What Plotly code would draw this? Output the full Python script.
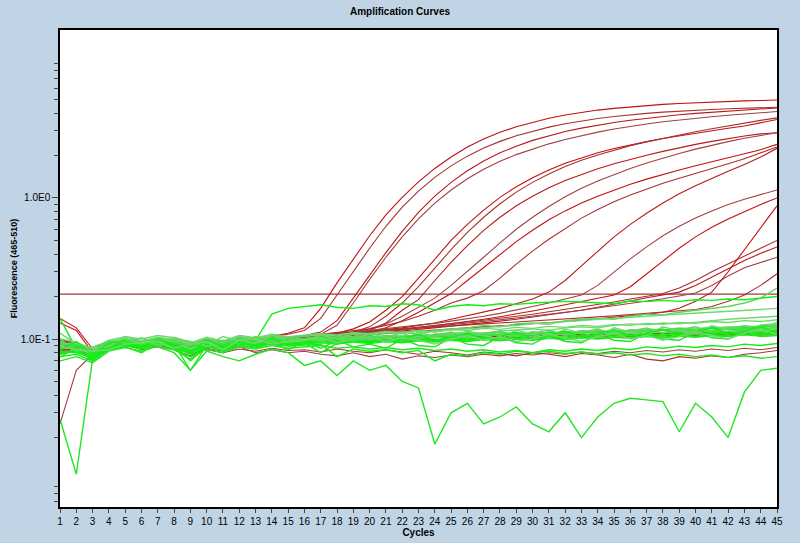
import plotly.graph_objects as go

cycles = list(range(1, 46))
threshold = 0.208

# fluorescence values in thousandths, one list per sample (45 cycles)
red_curves = [
 [95,90,80,92,98,95,100,97,92,99,95,102,100,105,110,120,165,250,370,540,760,1010,1300,1620,1950,2300,2620,2920,3200,3450,3680,3880,4050,4200,4320,4430,4530,4610,4680,4740,4790,4840,4880,4910,4950],
 [100,92,82,93,99,94,101,96,90,98,94,101,99,104,108,115,140,205,300,440,630,860,1120,1400,1690,1980,2260,2520,2760,2980,3180,3360,3520,3660,3780,3890,3980,4060,4130,4190,4240,4290,4330,4370,4400],
 [88,90,78,91,97,92,99,94,88,96,92,99,97,101,103,106,112,135,195,285,410,580,790,1030,1290,1560,1830,2090,2330,2560,2770,2960,3130,3290,3430,3560,3680,3790,3890,3980,4060,4140,4210,4280,4350],
 [82,86,76,90,95,90,97,93,86,95,90,98,96,100,102,104,108,125,180,265,380,530,710,920,1140,1370,1600,1820,2030,2230,2420,2600,2770,2930,3080,3220,3350,3470,3580,3680,3770,3860,3940,4020,4100],
 [90,88,80,92,97,93,99,95,89,97,93,100,97,102,100,104,106,110,118,132,160,200,270,370,500,650,820,1010,1200,1390,1580,1760,1930,2090,2240,2380,2510,2640,2760,2880,3000,3120,3240,3400,3600],
 [85,87,79,91,96,91,98,94,87,96,92,99,96,100,99,102,104,107,112,122,145,180,235,320,430,570,730,910,1100,1290,1480,1670,1850,2020,2190,2350,2500,2650,2800,2950,3100,3250,3400,3550,3700],
 [98,94,84,95,100,96,102,98,91,100,95,103,99,104,102,105,106,108,110,115,130,160,190,260,350,460,590,730,880,1030,1180,1330,1470,1610,1750,1880,2010,2140,2270,2400,2520,2640,2750,2850,2900],
 [92,89,81,93,98,94,100,96,90,98,94,101,98,103,101,104,106,108,112,118,128,145,168,195,240,300,380,480,600,730,870,1020,1170,1320,1470,1620,1770,1920,2070,2220,2370,2510,2650,2780,2900],
 [86,86,78,90,95,91,97,93,87,95,91,98,95,100,98,101,103,105,108,112,120,135,155,180,210,260,320,400,490,590,700,810,920,1030,1140,1250,1360,1470,1580,1690,1800,1920,2050,2200,2400],
 [94,91,83,94,99,95,101,97,91,99,95,102,99,104,102,105,107,110,114,118,125,133,145,160,180,195,220,270,340,420,510,610,720,830,940,1050,1160,1270,1380,1500,1620,1750,1900,2080,2300],
 [89,88,80,92,97,92,98,95,89,97,93,100,97,102,100,103,105,107,110,113,116,120,125,130,138,146,155,165,178,192,215,260,330,420,530,650,780,920,1070,1220,1380,1550,1730,1950,2250],
 [96,92,84,94,99,95,101,97,91,99,95,102,99,104,102,105,107,109,112,115,118,121,125,129,134,139,145,152,160,170,180,192,205,240,300,370,450,540,630,720,810,900,980,1060,1140],
 [84,86,77,90,95,90,97,93,86,95,90,98,95,100,98,101,103,105,108,110,113,116,120,124,128,133,138,144,150,158,166,175,185,196,205,235,290,360,440,530,620,710,800,900,1000],
 [91,89,80,92,97,93,99,95,89,97,93,100,97,102,100,103,105,107,110,112,115,118,121,125,128,132,136,140,145,150,156,162,168,175,183,192,200,210,230,260,300,340,390,440,500],
 [87,87,78,90,95,91,97,93,87,95,91,98,95,100,98,101,103,105,107,109,112,114,117,120,123,126,130,134,138,143,148,154,160,168,176,186,196,206,215,240,275,315,360,405,450],
 [93,90,82,93,98,94,100,96,90,98,94,101,98,103,101,104,106,108,110,112,114,117,120,123,126,129,133,137,141,145,150,155,160,166,172,178,185,193,202,212,240,280,320,350,380],
 [80,85,75,89,94,89,96,92,85,94,89,97,94,99,97,100,102,104,106,108,110,112,114,116,118,120,122,124,126,128,130,133,136,139,142,146,150,155,165,185,215,300,430,620,880],
 [97,93,85,95,100,96,102,98,92,100,96,103,100,105,103,106,108,110,112,114,116,118,120,122,124,126,128,130,132,134,136,138,140,143,146,149,152,155,158,162,170,185,205,240,290],
 [140,120,85,92,96,90,95,92,84,92,88,96,93,98,95,97,99,98,101,100,102,101,103,102,104,103,105,104,106,105,107,106,108,107,109,108,110,109,111,110,112,111,113,112,114],
 [25,60,78,88,90,85,88,84,76,86,82,88,80,84,80,82,78,76,80,75,78,72,76,74,77,75,78,76,79,77,80,78,81,79,82,80,83,81,84,82,85,83,86,84,87],
 [130,115,80,90,94,89,94,90,83,91,87,94,92,96,93,95,97,95,98,96,99,97,100,98,101,99,102,100,103,101,104,102,105,103,106,104,107,105,108,106,109,107,110,108,111],
 [78,82,72,86,92,84,90,86,79,84,80,85,82,86,83,84,81,85,82,80,84,81,78,82,80,77,81,79,76,80,78,75,79,77,74,78,72,70,75,73,76,74,78,80,83],
]

green_curves = [
 [27,11,72,88,90,85,88,80,60,82,75,70,78,85,80,65,70,55,70,60,65,50,45,18,30,35,25,28,33,25,22,30,20,28,35,38,37,36,22,35,28,20,42,60,62],
 [95,90,80,95,100,95,102,98,88,97,92,100,97,103,98,100,105,102,108,106,110,112,108,115,118,120,125,122,128,130,127,135,138,140,138,145,150,148,155,160,165,170,180,195,230],
 [140,85,78,92,98,93,100,96,90,99,94,102,98,150,165,170,175,168,165,172,170,178,175,160,170,175,172,178,176,180,182,185,183,180,178,186,184,188,185,190,188,192,190,195,200],
 [85,88,76,90,96,92,98,93,84,94,90,97,95,99,96,98,100,103,101,104,102,106,104,108,110,112,110,114,116,118,115,120,122,120,125,128,126,130,128,132,135,138,140,142,145],
 [80,82,72,88,92,88,95,90,80,90,86,94,92,96,93,95,97,99,96,100,98,102,100,103,105,104,106,108,107,110,108,112,110,113,112,115,114,116,118,117,120,122,121,124,125],
 [90,92,80,94,99,95,100,97,90,98,93,101,98,102,99,101,103,100,104,102,106,104,107,105,108,110,107,111,109,112,110,113,111,114,112,115,113,116,114,117,115,118,116,119,118],
 [75,78,70,85,90,86,92,88,78,88,84,92,90,93,90,92,94,92,95,93,96,94,97,95,98,96,99,97,100,98,101,99,102,100,103,101,104,102,105,103,106,104,107,105,108],
 [100,95,85,98,104,100,106,102,94,103,97,106,102,108,104,106,109,107,111,109,113,111,115,113,117,115,119,117,121,119,123,121,125,123,127,125,129,127,131,129,133,131,135,133,137],
 [70,75,68,82,87,82,89,84,75,85,80,88,85,90,86,88,90,86,88,85,87,84,86,83,85,82,84,81,83,80,82,79,81,78,80,77,79,76,78,75,77,74,76,73,75],
 [88,86,79,91,95,91,96,94,86,95,91,99,96,100,97,99,101,99,103,101,104,102,106,104,107,105,108,106,109,107,110,108,111,109,112,110,113,111,114,112,115,113,116,114,117],
 [82,80,74,87,93,89,94,91,83,92,88,95,93,97,94,96,98,96,99,97,100,98,101,99,102,100,103,101,104,102,105,103,106,104,107,105,108,106,109,107,110,108,111,109,112],
 [92,94,82,96,101,97,103,99,92,101,95,104,100,106,102,104,107,105,110,108,112,110,114,112,116,118,120,122,125,128,130,132,135,138,140,142,145,148,150,152,155,158,160,162,165],
 [78,84,73,89,94,90,96,92,60,90,86,93,91,95,92,94,80,93,96,94,97,95,98,96,99,97,100,98,101,99,102,100,103,101,104,102,105,103,106,104,107,105,108,106,110],
 [96,88,83,93,97,94,99,95,89,96,92,98,95,101,97,99,102,100,104,102,105,103,107,105,108,106,110,108,111,109,112,110,114,112,115,113,117,115,118,116,119,117,120,118,121],
 [85,90,77,89,93,88,94,90,70,88,85,90,88,92,89,90,92,75,85,82,84,80,83,70,78,76,80,78,82,80,84,82,85,83,86,84,88,86,89,87,90,88,92,90,93],
 [90,85,80,93,98,92,97,95,85,94,90,96,94,98,95,97,99,97,101,99,102,100,104,102,106,104,108,106,110,108,112,110,114,112,116,114,118,116,120,118,122,120,124,122,126],
 [86,91,79,92,96,90,99,93,88,97,90,100,95,99,98,96,102,98,100,103,99,104,101,106,103,108,105,107,110,106,112,109,111,114,110,116,113,115,118,114,120,117,119,122,124],
 [94,87,81,90,100,94,98,97,91,94,96,99,101,97,103,100,98,104,102,100,106,103,101,108,105,103,110,107,105,112,109,107,114,111,109,116,113,111,118,115,113,120,117,115,122],
 [79,83,75,86,91,87,93,89,82,91,87,93,90,95,92,93,96,94,97,95,99,96,100,98,101,99,103,100,104,102,105,103,107,104,108,106,109,107,111,108,112,110,113,111,115],
 [110,92,86,88,104,97,92,103,95,90,104,97,93,106,99,94,108,100,96,110,102,97,112,104,98,114,106,100,116,108,102,118,110,104,120,112,106,122,114,108,124,116,110,126,128],
 [74,88,70,84,88,80,94,84,72,92,82,90,86,94,84,96,86,98,88,92,86,100,90,88,102,92,90,104,94,92,106,96,94,108,98,96,110,100,98,112,102,100,114,104,106],
 [100,82,88,96,94,102,90,100,96,88,98,92,104,94,100,106,96,102,108,98,104,110,100,106,112,102,108,114,104,110,116,106,112,118,108,114,120,110,116,122,112,118,124,114,132],
 [84,96,78,94,97,86,100,91,80,99,88,96,89,102,91,95,104,93,98,106,95,100,108,97,102,110,99,104,112,101,106,114,103,108,116,105,110,118,107,112,120,109,114,122,111],
 [88,84,82,84,92,94,96,86,92,96,84,98,100,92,96,98,102,94,100,104,96,102,98,92,100,106,98,104,96,100,108,102,96,104,110,100,106,98,104,112,106,100,110,116,108],
]

red_colors = ["#c01010", "#a83030", "#b81818", "#a04040"]
green_colors = ["#22e622", "#5ad85a", "#10f010", "#70d870"]

fig = go.Figure()
fig.add_hline(y=threshold, line=dict(color="#a03838", width=1.2), layer="below")
for i, c in enumerate(red_curves):
    fig.add_trace(go.Scatter(x=cycles, y=[v / 1000 for v in c], mode="lines",
                             line=dict(color=red_colors[i % 4], width=1.1),
                             showlegend=False, hoverinfo="skip"))
for i, c in enumerate(green_curves):
    fig.add_trace(go.Scatter(x=cycles, y=[v / 1000 for v in c], mode="lines",
                             line=dict(color=green_colors[i % 4], width=1.4),
                             showlegend=False, hoverinfo="skip"))

minor_vals = [m * 10.0 ** e for e in (-3, -2, -1, 0, 1) for m in range(2, 10)]

fig.update_layout(
    width=800, height=543,
    paper_bgcolor="#c1d4e6", plot_bgcolor="white",
    margin=dict(l=60, r=23, t=30, b=36, autoexpand=False),
    font=dict(family="Liberation Sans, Arial, sans-serif", color="black", size=10),
    title=dict(text="<b>Amplification Curves</b>", x=0.5, xanchor="center",
               y=0.985, yanchor="top", font=dict(size=10)),
    xaxis=dict(range=[1, 45], tickmode="array", tickvals=cycles,
               ticks="outside", ticklen=4, showgrid=False, zeroline=False,
               showline=True, linecolor="black", linewidth=1.5, mirror=True,
               title=dict(text="<b>Cycles</b>", standoff=0, font=dict(size=10))),
    yaxis=dict(type="log", range=[-2.191, 1.191], tickmode="array",
               tickvals=[0.1, 1], ticktext=["1.0E-1", "1.0E0"],
               ticks="outside", ticklen=6, showgrid=False, zeroline=False,
               showline=True, linecolor="black", linewidth=1.5, mirror=True,
               minor=dict(tickvals=minor_vals, ticks="outside", ticklen=4, tickcolor="#444"),
               title=dict(text="<b>Fluorescence (465-510)</b>", standoff=2, font=dict(size=9))),
)
fig.write_html("out.html", config={"displayModeBar": False})

# remove the default page margin so the figure fills the window exactly
with open("out.html", encoding="utf-8") as f:
    page = f.read()
page = page.replace("<body>", '<body style="margin:0;background:#c1d4e6">', 1)
with open("out.html", "w", encoding="utf-8") as f:
    f.write(page)
